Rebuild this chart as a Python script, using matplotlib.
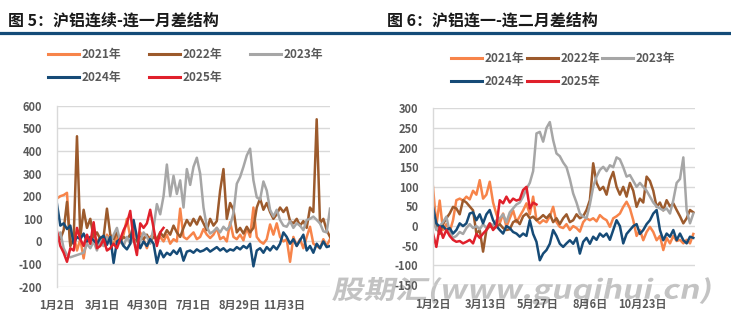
import numpy as np
import matplotlib
matplotlib.use('Agg')
import matplotlib.pyplot as plt
from matplotlib.lines import Line2D
from matplotlib.textpath import TextPath
from matplotlib.patches import PathPatch
from matplotlib.font_manager import FontProperties
from matplotlib.transforms import Affine2D, IdentityTransform

plt.rcParams['font.family'] = ['Noto Sans CJK SC', 'DejaVu Sans']
plt.rcParams['axes.unicode_minus'] = False

W, H = 731, 322

YEARS = ['2021年', '2022年', '2023年', '2024年', '2025年']
COLORS = ['#F7844A', '#9C5A2C', '#A6A6A6', '#164B77', '#E0202B']
STEP = 3  # values are taken every 3 trading days

# 沪铝连续-连一 spread (元/吨)
LEFT_2021 = [190, 200, 205, 215, -20, 30, -40, 10, -75, 20,
             -10, 30, 0, 20, -20, 30, 10, -10, 20, -5,
             30, 100, 20, 60, 0, 40, 10, -30, 20, 30,
             10, 20, 0, 30, -10, 10, 0, 145, 20, 10,
             25, 40, 10, 20, 55, 30, 15, 30, 60, 10,
             20, 0, 85, 20, 10, 30, 5, 60, 20, 150,
             20, 0, -10, 10, 75, 30, 80, 20, 0, 10,
             -90, 20, -20, 10, -30, 20, 65, -10, -20, -30,
             10, -20, 10]
LEFT_2022 = [30, 10, 50, 175, -20, 10, 465, 20, 140, 60,
             100, 20, 40, 10, 20, 145, 30, 10, 40, 0,
             20, 10, 30, 10, 0, 20, 10, 30, 0, 20,
             10, 40, 20, 50, 30, 70, 40, 20, 60, 95,
             70, 100, 75, 110, 80, 50, 100, 70, 90, 225,
             320, 100, 170, 140, 40, 60, 35, 65, 40, 60,
             150, 190, 140, 170, 130, 100, 120, 150, 130, 150,
             90, 80, 100, 70, 90, 60, 150, 130, 540, 80,
             100, 50, 20]
LEFT_2023 = [20, 40, -30, -60, -70, -65, -60, -55, -50, -10,
             -30, 0, -40, 10, -20, 20, -10, 30, 60, 0,
             -20, 20, -10, 10, -30, 0, 40, 20, -10, 60,
             165, 120, 200, 340, 200, 290, 210, 270, 150, 320,
             250, 330, 370, 300, 150, 65, 35, 45, 60, 40,
             65, 50, 70, 125, 255, 285, 330, 380, 410, 270,
             195, 185, 265, 225, 140, 110, 140, 95, 70, 65,
             90, 60, 80, 70, 50, 95, 100, 110, 95, 80,
             45, 40, 145]
LEFT_2024 = [165, 70, 80, 55, 70, -10, 20, 10, 35, 0,
             20, 5, -10, 15, 25, -15, 20, -95, 0, 10,
             -20, -35, -10, 95, 20, -30, 0, -20, 10, -10,
             -95, -40, -70, -50, -60, -40, -55, -30, -85, -45,
             -40, -50, -35, -45, -40, -30, -45, -35, -25, -40,
             -30, -45, -35, -40, -25, -35, -20, -30, -10, -110,
             -40, -30, -50, -25, -40, -20, -35, -10, 40, 20,
             -10, 10, -20, 5, 30, -40, -20, -50, -10, -30,
             0, -25, -20]
LEFT_2025 = [45, -20, -50, -90, -30, -40, 60, 10, -20, 30,
             -10, 85, -30, -20, 10, -40, -30, -10, -30, 10,
             50, 80, 135, 10, -60, 80, 60, 80, 140, 60,
             -20, 40, 60]
LEFT_TICKS = [0, 41, 82, 123, 164, 205]
LEFT_LABELS = ['1月2日', '3月1日', '4月30日', '7月1日', '8月29日', '11月3日']

# 沪铝连一-连二 spread (元/吨)
RIGHT_2021 = [100, 0, 65, -10, 5, -15, 15, 66, 70, 65,
              75, 68, 90, 80, 117, 70, 80, 113, 60, 30,
              7, 32, -2, 20, 40, 10, 25, 40, 58, 30,
              75, 15, 7, 15, 10, 25, 49, 10, -2, -5,
              5, -10, 0, -5, -14, 10, 20, 15, 20, 12,
              28, 20, 15, -2, 20, 25, 32, 49, 62, 45,
              15, -25, -10, -36, -15, -2, -15, -36, -25, -61,
              -30, -44, -25, -38, -35, -44, -35, -44, -20]
RIGHT_2022 = [10, 0, -20, 5, 20, 32, 49, 45, 30, 66,
              60, 50, 40, -19, -10, -65, -10, 0, -5, -2,
              5, -5, -10, -8, 10, 15, 5, 25, 32, 20,
              24, 15, 20, 28, 20, 30, 10, 20, 5, 20,
              30, 10, 15, 30, 20, 25, 41, 66, 160, 110,
              92, 100, 80, 117, 138, 100, 80, 100, 75, 110,
              90, 49, 70, 60, 126, 115, 90, 49, 60, 40,
              66, 50, 58, 41, 25, 7, 20, 41, 35]
RIGHT_2023 = [15, -10, 0, 10, 24, -15, -30, -25, -15, -20,
              -5, 5, -5, 0, -8, 5, -5, 7, 2, 15,
              20, 30, 10, 35, 45, 55, 60, 75, 95, 110,
              140, 236, 240, 215, 250, 265, 219, 185, 178, 162,
              150, 120, 83, 60, 32, 24, 20, 55, 100, 126,
              143, 151, 140, 155, 150, 175, 170, 150, 126, 130,
              115, 100, 110, 100, 90, 75, 60, 50, 45, 40,
              45, 32, 66, 110, 120, 175, 40, 7, 32]
RIGHT_2024 = [49, 7, -2, 0, -10, -5, -19, -10, 7, 0,
              7, 32, 35, 15, 30, 7, 30, 41, 15, 0,
              -10, -19, 0, -5, -15, -19, -27, -19, -25, 15,
              -20, -40, -87, -70, -61, -45, -10, -25, -45, -53,
              -44, -36, -45, -30, -70, -40, -30, -45, -27, -35,
              -19, -27, -19, -35, -10, 15, 0, -44, -20, -10,
              0, 5, -20, -10, 5, 15, 32, 41, -10, -36,
              -19, -27, -10, -36, -19, -36, -44, -27, -30]
RIGHT_2025 = [-19, -53, -2, -30, -10, -25, -35, -40, -38, -44,
              -40, -35, -44, -20, -30, -19, -10, 7, -10, 0,
              66, 58, 75, 60, 70, 65, 68, 92, 100, 45,
              60, 55]
RIGHT_TICKS = [0, 47, 94, 141, 188]
RIGHT_LABELS = ['1月2日', '3月13日', '5月27日', '8月6日', '10月23日']

TICK_COLOR = '#595959'
GRID_COLOR = '#d9d9d9'
LINE_WIDTH = 1.8


def fx(px):
    return px / W


def fy(py):
    return 1 - py / H


def plot_panel(ax, series, xmax, ylim, yticks, xticks, xlabels):
    for values, color in zip(series, COLORS):
        days = np.arange(len(values)) * STEP
        ax.plot(days, values, color=color, lw=LINE_WIDTH, solid_joinstyle='round')

    ax.set_facecolor('none')
    ax.set_xlim(0, xmax)
    ax.set_ylim(*ylim)
    ax.set_yticks(yticks)
    ax.set_xticks(xticks)
    ax.set_xticklabels(xlabels)
    ax.grid(axis='y', color=GRID_COLOR, lw=1.0)
    ax.grid(axis='x', visible=False)
    ax.set_axisbelow(True)
    for side in ['top', 'right', 'bottom']:
        ax.spines[side].set_visible(False)
    ax.spines['left'].set_color(GRID_COLOR)
    ax.spines['left'].set_linewidth(1.0)
    ax.tick_params(axis='both', length=0, labelsize=8, labelcolor=TICK_COLOR)
    ax.tick_params(axis='y', pad=10.5)
    ax.tick_params(axis='x', pad=9)
    for lbl in ax.get_xticklabels() + ax.get_yticklabels():
        lbl.set_fontweight('bold')


def draw_legend(fig, cols, rows):
    for i, (label, color) in enumerate(zip(YEARS, COLORS)):
        x0 = cols[i % 3]
        y = rows[i // 3]
        fig.add_artist(Line2D([fx(x0), fx(x0 + 31)], [fy(y), fy(y)],
                              transform=fig.transFigure, color=color, lw=2.2))
        fig.text(fx(x0 + 34), fy(y), label, fontsize=8.5, fontweight='bold',
                 color=TICK_COLOR, ha='left', va='center')


fig = plt.figure(figsize=(W / 100, H / 100), dpi=100)
fig.patch.set_facecolor('white')

# watermark, drawn under both panels
fp = FontProperties(family='Noto Sans CJK SC', weight='bold')
tp = TextPath((0, 0), '股期汇(www.guqihui.cn)', size=30, prop=fp)
ext = tp.get_extents()
mark_tf = (Affine2D().translate(-ext.x0, -ext.y0)
           .scale(376 / ext.width, 28 / ext.height)
           .skew_deg(12, 0).translate(331, H - 305))
mark = PathPatch(mark_tf.transform_path(tp), transform=IdentityTransform(),
                 facecolor='#c3c3c3', edgecolor='none', zorder=-1)
fig.add_artist(mark)

# panel titles and the rule under them
fig.text(fx(8), fy(20), '图 5：沪铝连续-连一月差结构', fontsize=11.5,
         fontweight='bold', color='#1a1a1a', ha='left', va='center')
fig.text(fx(387), fy(20), '图 6：沪铝连一-连二月差结构', fontsize=11.5,
         fontweight='bold', color='#1a1a1a', ha='left', va='center')
fig.add_artist(Line2D([0, 1], [fy(32.5), fy(32.5)], transform=fig.transFigure,
                      color='#134B78', lw=2.3))

ax1 = fig.add_axes([fx(57), fy(286.7), 273 / W, (286.7 - 105.7) / H])
plot_panel(ax1, [LEFT_2021, LEFT_2022, LEFT_2023, LEFT_2024, LEFT_2025],
           246, (-200, 600), np.arange(-200, 601, 100), LEFT_TICKS, LEFT_LABELS)

ax2 = fig.add_axes([fx(433), fy(285), 262 / W, (285 - 108.3) / H])
plot_panel(ax2, [RIGHT_2021, RIGHT_2022, RIGHT_2023, RIGHT_2024, RIGHT_2025],
           235.5, (-150, 300), np.arange(-150, 301, 50), RIGHT_TICKS, RIGHT_LABELS)

draw_legend(fig, [48, 149, 250], [54.3, 77.3])
draw_legend(fig, [451, 527, 602], [58.3, 81])

fig.savefig('out.png', dpi=100, facecolor='white')
